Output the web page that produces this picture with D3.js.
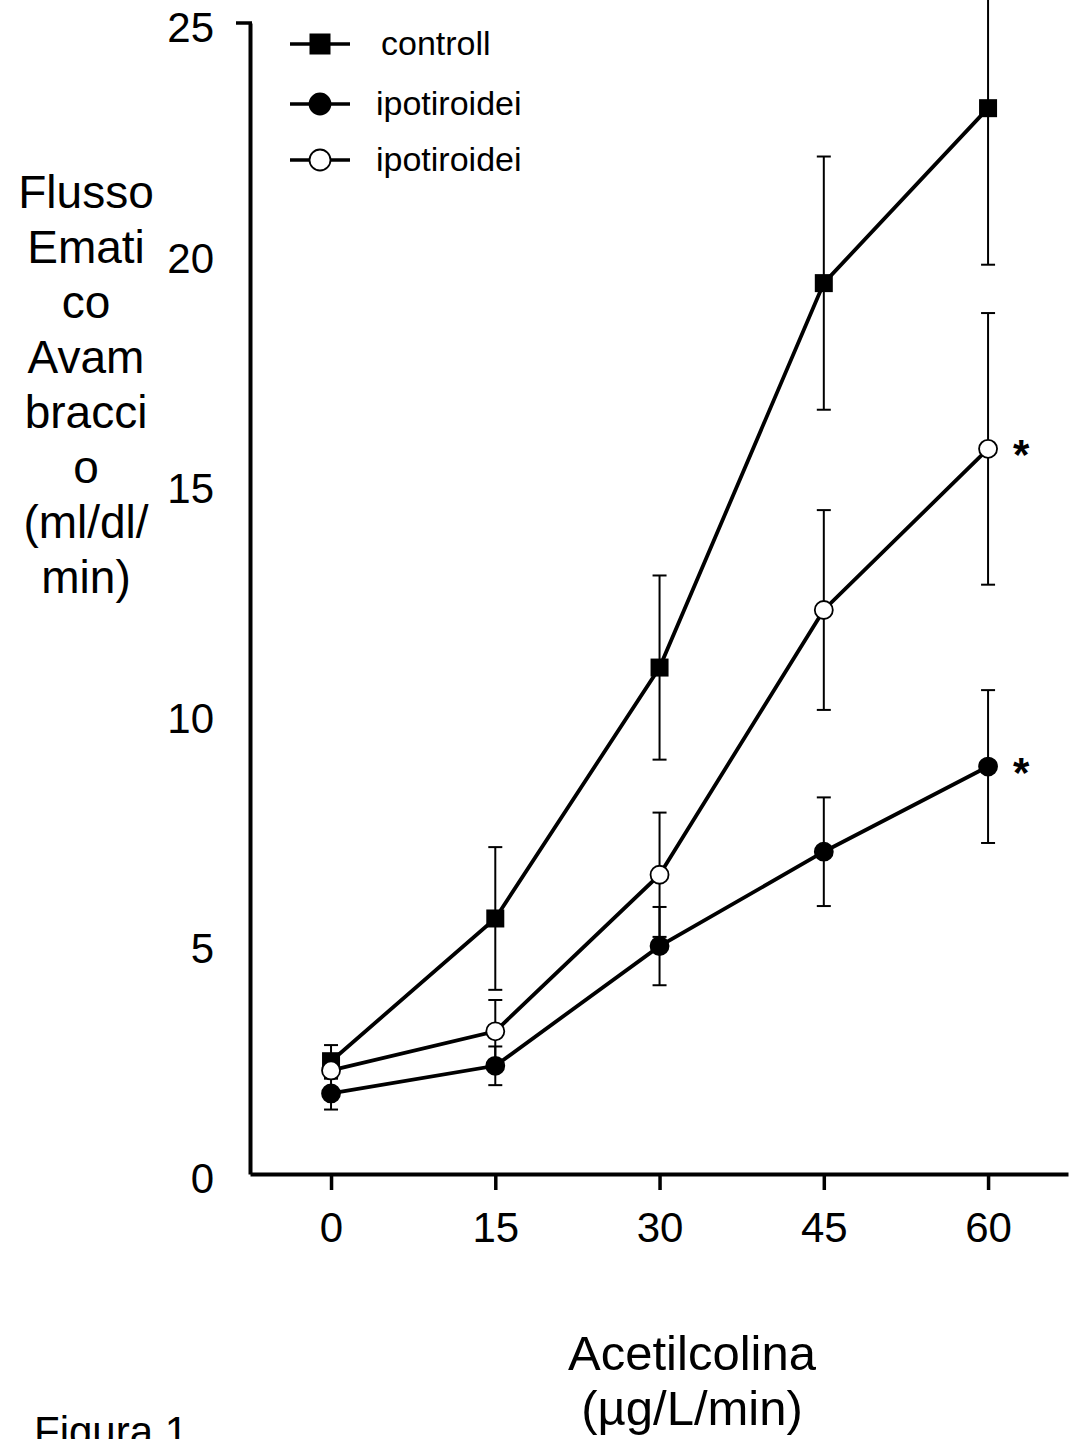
<!DOCTYPE html>
<html>
<head>
<meta charset="utf-8">
<script src="https://cdn.jsdelivr.net/npm/d3@7"></script>
<style>
  body { margin: 0; background: #fff; }
  svg { display: block; font-family: "Liberation Sans", Arial, sans-serif; }
</style>
</head>
<body>
<svg id="chart" width="1078" height="1439"></svg>
<script>
// values
const doses = [0, 15, 30, 45, 60];
const xTicks = [0, 15, 30, 45, 60];
const yTicks = [0, 5, 10, 15, 20, 25];

const controlMean = [2.45, 5.55, 11.0, 19.35, 23.15];
const controlErr = [0.35, 1.55, 2.0, 2.75, 3.4];
const hypoMean = [1.75, 2.35, 4.95, 7.0, 8.85];
const hypoErr = [0.35, 0.42, 0.85, 1.18, 1.66];
const hypo2Mean = [2.25, 3.1, 6.5, 12.25, 15.75];
const hypo2Err = [0.18, 0.68, 1.35, 2.17, 2.95];

const legendLabels = ["controll", "ipotiroidei", "ipotiroidei"];
const yTitle = ["Flusso", "Emati", "co", "Avam", "bracci", "o", "(ml/dl/", "min)"];
const xTitle = ["Acetilcolina", "(\u00b5g/L/min)"];
const starred = [false, true, true]; // asterisk at the last dose

const series = [
  { name: legendLabels[0], mean: controlMean, err: controlErr, shape: "square", fill: "#000" },
  { name: legendLabels[1], mean: hypoMean, err: hypoErr, shape: "circle", fill: "#000" },
  { name: legendLabels[2], mean: hypo2Mean, err: hypo2Err, shape: "circle", fill: "#fff" },
];

const svg = d3.select("#chart");

// the axis line runs a bit past the first and last dose
const x = d3.scaleLinear().domain([-7.4, 67.3]).range([250, 1068]);
const y = d3.scaleLinear().domain([0, 25]).range([1174, 23]);

// x axis
svg.append("g")
  .attr("transform", `translate(0,${y(0)})`)
  .call(d3.axisBottom(x).tickValues(xTicks).tickSizeInner(16).tickSizeOuter(0).tickPadding(22))
  .call((g) => g.select(".domain").attr("stroke-width", 4))
  .call((g) => g.selectAll(".tick line").attr("stroke-width", 3.5))
  .call((g) => g.selectAll(".tick text").attr("font-size", 42).attr("fill", "#000"));

// y axis: only the top end carries a mark
svg.append("g")
  .attr("transform", `translate(${x.range()[0]},0)`)
  .call(d3.axisLeft(y).tickValues(yTicks).tickSize(0).tickPadding(36))
  .call((g) => g.select(".domain").attr("stroke-width", 4))
  .call((g) => g.selectAll(".tick text").attr("font-size", 42).attr("fill", "#000").attr("dy", "0.45em"));

svg.append("line")
  .attr("x1", x.range()[0] - 14).attr("x2", x.range()[0] + 2)
  .attr("y1", y(25)).attr("y2", y(25))
  .attr("stroke", "#000").attr("stroke-width", 3.5);

const line = d3.line().x((d) => x(d[0])).y((d) => y(d[1]));

const drawMarker = (sel, s, cx, cy, size) => {
  if (s.shape === "square") {
    sel.append("rect")
      .attr("x", cx - size / 2).attr("y", cy - size / 2)
      .attr("width", size).attr("height", size)
      .attr("fill", s.fill);
  } else {
    sel.append("circle")
      .attr("cx", cx).attr("cy", cy).attr("r", size / 2)
      .attr("fill", s.fill).attr("stroke", "#000").attr("stroke-width", 1.8);
  }
};

series.forEach((s, si) => {
  const g = svg.append("g").attr("class", "series");
  const pts = doses.map((d, i) => [d, s.mean[i], s.err[i]]);

  // error bars
  pts.forEach((p) => {
    const cx = x(p[0]);
    const y1 = y(p[1] + p[2]);
    const y2 = y(p[1] - p[2]);
    g.append("line").attr("x1", cx).attr("x2", cx).attr("y1", y1).attr("y2", y2)
      .attr("stroke", "#000").attr("stroke-width", 2);
    [y1, y2].forEach((yy) => {
      g.append("line").attr("x1", cx - 7).attr("x2", cx + 7).attr("y1", yy).attr("y2", yy)
        .attr("stroke", "#000").attr("stroke-width", 2);
    });
  });

  g.append("path")
    .datum(pts)
    .attr("d", line)
    .attr("fill", "none")
    .attr("stroke", "#000")
    .attr("stroke-width", 3.8);

  pts.forEach((p) => drawMarker(g, s, x(p[0]), y(p[1]), 18));

  if (starred[si]) {
    const last = pts[pts.length - 1];
    g.append("text")
      .attr("x", x(last[0]) + 33)
      .attr("y", y(last[1]) + 20)
      .attr("text-anchor", "middle")
      .attr("font-size", 42)
      .attr("font-weight", "bold")
      .text("*");
  }
});

// legend
const legendY = [44, 104, 160];
series.forEach((s, i) => {
  const g = svg.append("g").attr("transform", `translate(320,${legendY[i]})`);
  g.append("line").attr("x1", -30).attr("x2", 30).attr("y1", 0).attr("y2", 0)
    .attr("stroke", "#000").attr("stroke-width", 3.5);
  drawMarker(g, s, 0, 0, 21);
  g.append("text")
    .attr("x", i === 0 ? 61 : 56)
    .attr("y", 11)
    .attr("font-size", 34)
    .text(s.name);
});

// axis titles
svg.append("text")
  .attr("text-anchor", "middle")
  .attr("font-size", 46)
  .selectAll("tspan")
  .data(yTitle)
  .join("tspan")
  .attr("x", 86)
  .attr("y", (d, i) => 208 + i * 55)
  .text((d) => d);

svg.append("text")
  .attr("text-anchor", "middle")
  .attr("font-size", 49)
  .selectAll("tspan")
  .data(xTitle)
  .join("tspan")
  .attr("x", 692)
  .attr("y", (d, i) => 1370 + i * 55)
  .text((d) => d);

svg.append("text")
  .attr("x", 34)
  .attr("y", 1446)
  .attr("font-size", 42)
  .text("Figura 1");
</script>
</body>
</html>
